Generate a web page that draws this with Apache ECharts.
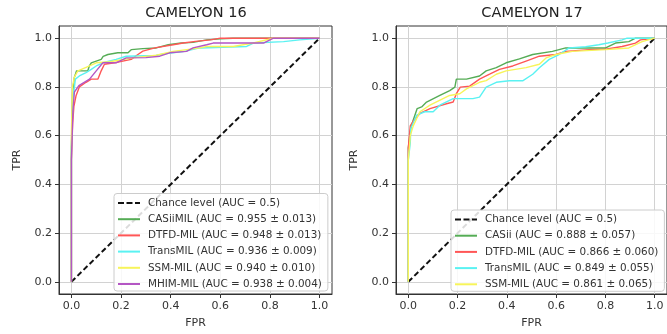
<!DOCTYPE html>
<html>
<head>
<meta charset="utf-8">
<script src="https://cdn.jsdelivr.net/npm/echarts@6/dist/echarts.min.js"></script>
<style>html,body{margin:0;padding:0;background:#fff}#c{width:667px;height:334px}</style>
</head>
<body>
<div id="c"></div>
<script>
// ---- data ----
const titles = ['CAMELYON 16', 'CAMELYON 17'];
const tickValues = [0, 0.2, 0.4, 0.6, 0.8, 1.0];
const chance = [[0, 0], [1, 1]];

const c16Names = ['Chance level (AUC = 0.5)', 'CASiiMIL (AUC = 0.955 ± 0.013)', 'DTFD-MIL (AUC = 0.948 ± 0.013)', 'TransMIL (AUC = 0.936 ± 0.009)', 'SSM-MIL (AUC = 0.940 ± 0.010)', 'MHIM-MIL (AUC = 0.938 ± 0.004)'];
const c17Names = ['Chance level (AUC = 0.5)', 'CASii (AUC = 0.888 ± 0.057)', 'DTFD-MIL (AUC = 0.866 ± 0.060)', 'TransMIL (AUC = 0.849 ± 0.055)', 'SSM-MIL (AUC = 0.861 ± 0.065)'];

const c16Casii = [[0,0],[0,0.55],[0.005,0.78],[0.012,0.84],[0.021,0.866],[0.066,0.866],[0.072,0.885],[0.08,0.899],[0.1,0.906],[0.12,0.913],[0.128,0.925],[0.147,0.933],[0.187,0.94],[0.228,0.94],[0.241,0.953],[0.288,0.957],[0.342,0.96],[0.39,0.973],[0.443,0.98],[0.49,0.983],[0.545,0.993],[0.6,0.997],[0.65,1.0],[1,1]];
const c16Dtfd = [[0,0],[0,0.5],[0.005,0.65],[0.01,0.72],[0.019,0.765],[0.032,0.8],[0.059,0.819],[0.08,0.832],[0.107,0.832],[0.12,0.866],[0.133,0.893],[0.174,0.899],[0.241,0.913],[0.268,0.933],[0.288,0.947],[0.336,0.96],[0.41,0.973],[0.45,0.98],[0.5,0.987],[0.56,0.993],[0.6,1.0],[1,1]];
const c16Trans = [[0,0],[0,0.55],[0.006,0.75],[0.016,0.832],[0.032,0.845],[0.059,0.859],[0.08,0.872],[0.1,0.886],[0.127,0.899],[0.18,0.913],[0.221,0.926],[0.34,0.929],[0.383,0.937],[0.45,0.945],[0.518,0.96],[0.706,0.966],[0.733,0.98],[0.855,0.986],[0.92,0.993],[1,1]];
const c16Ssm = [[0,0],[0,0.6],[0.004,0.8],[0.012,0.84],[0.026,0.866],[0.032,0.866],[0.073,0.886],[0.1,0.899],[0.154,0.903],[0.248,0.919],[0.342,0.93],[0.41,0.946],[0.518,0.96],[0.545,0.966],[0.652,0.966],[0.733,0.98],[0.814,1.0],[1,1]];
const c16Mhim = [[0,0],[0,0.5],[0.006,0.7],[0.012,0.779],[0.03,0.805],[0.073,0.832],[0.1,0.866],[0.127,0.899],[0.18,0.899],[0.221,0.919],[0.3,0.92],[0.356,0.926],[0.396,0.94],[0.464,0.946],[0.49,0.96],[0.545,0.973],[0.571,0.98],[0.774,0.98],[0.814,1.0],[1,1]];

const c17Casii = [[0,0],[0,0.55],[0.01,0.631],[0.02,0.664],[0.036,0.711],[0.054,0.718],[0.074,0.738],[0.128,0.765],[0.168,0.785],[0.189,0.799],[0.195,0.832],[0.236,0.832],[0.289,0.845],[0.316,0.866],[0.357,0.879],[0.397,0.899],[0.451,0.915],[0.505,0.933],[0.585,0.946],[0.639,0.96],[0.801,0.96],[0.841,0.98],[0.895,0.986],[0.922,1.0],[1,1]];
const c17Dtfd = [[0,0],[0,0.55],[0.008,0.64],[0.02,0.66],[0.047,0.691],[0.088,0.711],[0.155,0.731],[0.182,0.738],[0.195,0.772],[0.211,0.799],[0.249,0.803],[0.289,0.832],[0.33,0.852],[0.37,0.872],[0.424,0.886],[0.478,0.906],[0.532,0.926],[0.599,0.933],[0.639,0.946],[0.734,0.953],[0.801,0.955],[0.868,0.966],[0.922,0.98],[0.942,0.993],[1,1]];
const c17Trans = [[0,0],[0,0.5],[0.008,0.57],[0.01,0.63],[0.034,0.684],[0.067,0.698],[0.101,0.698],[0.128,0.725],[0.182,0.752],[0.262,0.752],[0.289,0.758],[0.316,0.799],[0.357,0.819],[0.41,0.825],[0.464,0.825],[0.505,0.852],[0.532,0.879],[0.572,0.913],[0.612,0.933],[0.653,0.96],[0.72,0.965],[0.773,0.973],[0.81,0.98],[0.868,0.993],[0.888,1.0],[1,1]];
const c17Ssm = [[0,0],[0,0.5],[0.008,0.6],[0.02,0.64],[0.047,0.698],[0.088,0.725],[0.141,0.752],[0.168,0.765],[0.209,0.772],[0.236,0.792],[0.289,0.819],[0.316,0.826],[0.357,0.852],[0.397,0.866],[0.478,0.879],[0.532,0.893],[0.559,0.919],[0.599,0.933],[0.666,0.946],[0.801,0.953],[0.895,0.96],[0.949,0.986],[1,1]];

// ---- styling ----
const colors = ['#111111', '#55ac55', '#ff5656', '#5af2f2', '#f7f45a', '#b456c4'];
const FONT = 'DejaVu Sans';
const SOLID_ICON = 'path://M0,0h22v2h-22z';
const DASH_ICON = 'path://M0,0h6v2h-6z M8.5,0h6v2h-6z M17,0h5v2h-5z';

function xAxis(gi) {
  return {
    type: 'value', gridIndex: gi, min: -0.05, max: 1.05,
    name: 'FPR', nameLocation: 'middle', nameGap: 24,
    nameTextStyle: {fontSize: 11, color: '#333', fontFamily: FONT},
    axisLine: {show: true, onZero: false, lineStyle: {color: '#333', width: 1}},
    axisTick: {show: true, length: 4, customValues: tickValues, lineStyle: {color: '#333'}},
    axisLabel: {customValues: tickValues, formatter: v => v.toFixed(1), fontSize: 11, color: '#333', margin: 7, fontFamily: FONT},
    splitLine: {show: true, lineStyle: {color: '#d2d2d2', width: 1}}
  };
}
function yAxis(gi) {
  return {
    type: 'value', gridIndex: gi, min: -0.05, max: 1.05,
    name: 'TPR', nameLocation: 'middle', nameGap: 36,
    nameTextStyle: {fontSize: 11, color: '#333', fontFamily: FONT},
    axisLine: {show: true, onZero: false, lineStyle: {color: '#333', width: 1}},
    axisTick: {show: true, length: 4, customValues: tickValues, lineStyle: {color: '#333'}},
    axisLabel: {customValues: tickValues, formatter: v => v.toFixed(1), fontSize: 11, color: '#333', margin: 7, fontFamily: FONT},
    splitLine: {show: true, lineStyle: {color: '#d2d2d2', width: 1}}
  };
}
function lineSeries(name, data, color, gi, dashed) {
  return {
    type: 'line', name: name, data: data, xAxisIndex: gi, yAxisIndex: gi,
    symbol: 'none', showSymbol: false, silent: true,
    color: color, itemStyle: {color: color},
    lineStyle: dashed ? {color: color, width: 2, type: [5.5, 3]} : {color: color, width: 1.4}
  };
}

const series = [
  lineSeries(c16Names[0], chance, colors[0], 0, true),
  lineSeries(c16Names[1], c16Casii, colors[1], 0),
  lineSeries(c16Names[2], c16Dtfd, colors[2], 0),
  lineSeries(c16Names[3], c16Trans, colors[3], 0),
  lineSeries(c16Names[4], c16Ssm, colors[4], 0),
  lineSeries(c16Names[5], c16Mhim, colors[5], 0),
  lineSeries(c17Names[0], chance, colors[0], 1, true),
  lineSeries(c17Names[1], c17Casii, colors[1], 1),
  lineSeries(c17Names[2], c17Dtfd, colors[2], 1),
  lineSeries(c17Names[3], c17Trans, colors[3], 1),
  lineSeries(c17Names[4], c17Ssm, colors[4], 1)
];

function legend(names, left, top) {
  return {
    data: names.map((n, i) => ({name: n, icon: i === 0 ? DASH_ICON : SOLID_ICON})),
    orient: 'vertical', left: left, top: top,
    itemWidth: 22, itemHeight: 2, itemGap: 6.2, symbolKeepAspect: false,
    padding: [4.5, 6, 2, 4],
    backgroundColor: 'rgba(255,255,255,0.85)', borderColor: '#cccccc', borderWidth: 1, borderRadius: 3,
    selectedMode: false,
    itemStyle: {borderWidth: 0},
    textStyle: {fontSize: 10.4, color: '#333', fontFamily: FONT, padding: [0, 0, 0, 3]}
  };
}

const option = {
  animation: false,
  textStyle: {fontFamily: FONT},
  grid: [
    {left: 59, top: 26, width: 273, height: 273, show: true, borderColor: '#333', borderWidth: 1, backgroundColor: 'transparent'},
    {left: 396, top: 26, width: 273, height: 273, show: true, borderColor: '#333', borderWidth: 1, backgroundColor: 'transparent'}
  ],
  xAxis: [xAxis(0), xAxis(1)],
  yAxis: [yAxis(0), yAxis(1)],
  legend: [legend(c16Names, 114, 193.5), legend(c17Names, 451, 210)],
  graphic: [
    {type: 'text', x: 196, y: 13, style: {text: titles[0], textAlign: 'center', textVerticalAlign: 'middle', fontSize: 14.5, fill: '#222', fontFamily: FONT}},
    {type: 'text', x: 532, y: 13, style: {text: titles[1], textAlign: 'center', textVerticalAlign: 'middle', fontSize: 14.5, fill: '#222', fontFamily: FONT}}
  ],
  series: series
};

const chart = echarts.init(document.getElementById('c'), null, {renderer: 'canvas'});
chart.setOption(option);
</script>
</body>
</html>
